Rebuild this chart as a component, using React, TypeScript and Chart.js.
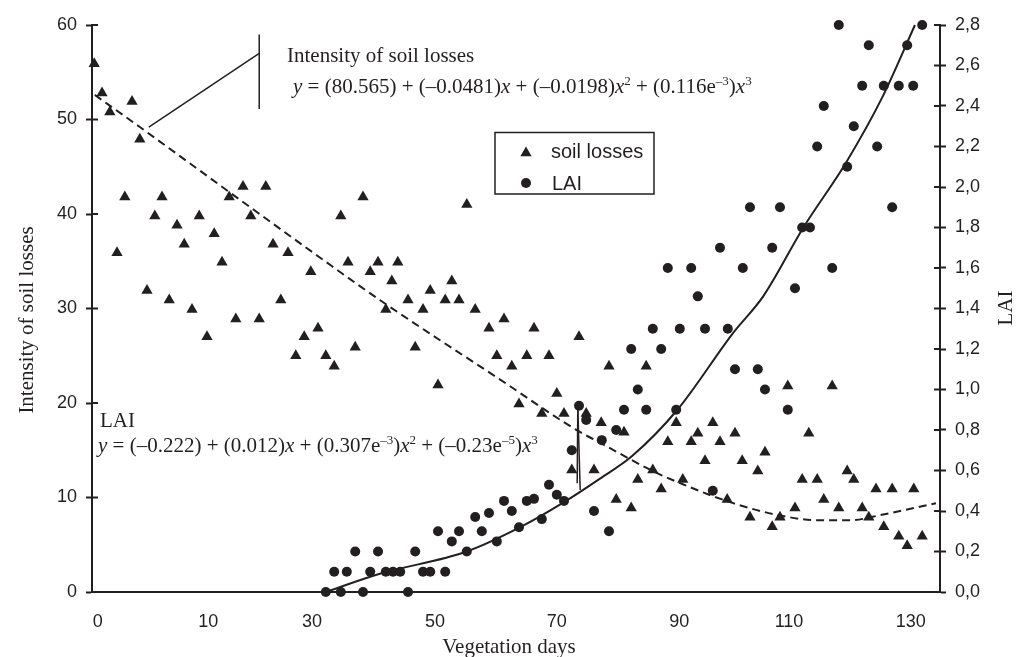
import React, { useEffect, useRef } from 'react';
import { Chart, registerables } from 'chart.js';

Chart.register(...registerables);

// ---------- data (x in axis units) ----------
const soilDays = [-6.3, -5, -3.7, 0, 1.3, -1.2, 5, 16.2, 18.5, 22.3, 38.5, 3.8, 11.2, 19.8, 34.8, 7.5, 13.7, 8.7, 23.5, -2.5, 26,
  15, 36, 41, 44.3, 29.8, 39.7, 43.3, 2.5, 6.2, 24.8, 10, 42.3, 17.3, 21.2, 12.5, 31, 28.7, 37.2, 27.3, 32.3, 33.7,
  55.8, 53.3, 49.7, 46, 52.2, 54.5, 48.5, 57.2, 59.5, 62, 67, 47.2, 60.8, 65.8, 69.5, 63.3, 74.5, 79.5, 85.7, 51, 70.8, 64.5, 68.3, 72, 75.7, 78.2, 82, 90.7, 89.3, 73.3, 77, 84.3, 86.8, 88.2, 80.7, 83.2,
  109.3, 116.7, 96.8, 94.3, 100.5, 112.8, 93.2, 98, 105.5, 95.5, 101.7, 104.3, 119.2, 91.8, 111.7, 114.2, 120.3, 124, 126.7, 130.3, 99.2, 115.3, 110.5, 117.8, 121.7, 103, 108, 122.8, 106.7, 125.3, 127.8, 131.7, 129.2];
const soilLosses = [55.9, 52.8, 50.8, 51.9, 47.9, 41.8, 41.8, 41.8, 42.9, 42.9, 41.8, 39.8, 39.8, 39.8, 39.8, 38.8, 37.9, 36.8, 36.8, 35.9, 35.9,
  34.9, 34.9, 34.9, 34.9, 33.9, 33.9, 32.9, 31.9, 30.9, 30.9, 29.9, 29.9, 28.9, 28.9, 27.0, 27.9, 27.0, 25.9, 25.0, 25.0, 23.9,
  41.0, 32.9, 31.9, 30.9, 30.9, 30.9, 29.9, 29.9, 27.9, 28.9, 27.9, 25.9, 25.0, 25.0, 25.0, 23.9, 27.0, 23.9, 23.9, 21.9, 21.0, 19.9, 18.9, 18.9, 18.9, 17.9, 16.9, 17.9, 15.9, 12.9, 12.9, 11.9, 12.9, 10.9, 9.8, 8.9,
  21.8, 21.8, 17.9, 16.8, 16.8, 16.8, 15.9, 15.9, 14.8, 13.9, 13.9, 12.8, 12.8, 11.9, 11.9, 11.9, 11.9, 10.9, 10.9, 10.9, 9.8, 9.8, 8.9, 8.9, 8.9, 7.9, 7.9, 7.9, 6.9, 6.9, 5.9, 5.9, 4.9];

const laiDays = [32.3, 34.8, 38.5, 46, 33.7, 35.8, 39.7, 42.3, 43.5, 44.7, 37.2, 41, 47.2, 48.5, 49.7, 52.2,
  51, 53.3, 54.5, 55.8, 57.2, 58.3, 59.5, 60.8, 62, 63.3, 64.5, 65.8, 67, 68.3, 69.5, 70.8, 72, 73.3, 74.5, 75.7, 77, 79.5, 78.3, 80.7, 82, 83.2, 84.3, 85.7, 86.8, 88.2, 89.3, 90.7, 91.3,
  94.3, 95.5, 99.3, 96.8, 100.5, 104.3, 105.5, 109.3, 110.5,
  93.2, 98, 101.8, 103, 106.7, 108, 111.7, 113, 116.7, 119.2, 114.2, 124.2, 120.3, 115.3, 121.7, 125.3, 127.8, 130.2, 122.8, 129.2, 117.8, 131.7, 126.7];
const laiValues = [0, 0, 0, 0, 0.1, 0.1, 0.1, 0.1, 0.1, 0.1, 0.2, 0.2, 0.2, 0.1, 0.1, 0.1,
  0.3, 0.25, 0.3, 0.2, 0.37, 0.3, 0.39, 0.25, 0.45, 0.4, 0.32, 0.45, 0.46, 0.36, 0.53, 0.48, 0.45, 0.7, 0.92, 0.85, 0.4, 0.3, 0.75, 0.8, 0.9, 1.2, 1.0, 0.9, 1.3, 1.2, 1.6, 0.9, 1.3,
  1.46, 1.3, 1.3, 0.5, 1.1, 1.1, 1.0, 0.9, 1.5,
  1.6, 1.7, 1.6, 1.9, 1.7, 1.9, 1.8, 1.8, 1.6, 2.1, 2.2, 2.2, 2.3, 2.4, 2.5, 2.5, 2.5, 2.5, 2.7, 2.7, 2.8, 2.8, 1.9];

// fitted trend lines
const soilFitDays = [-6.2, 1.3, 18, 31.3, 41.3, 61.3, 74.2, 78, 86.8, 91.8, 100.2, 108, 114.2, 119.7, 125.2, 134];
const soilFitValues = [52.6, 49.2, 41.5, 35.4, 30.9, 22.5, 17.1, 15.8, 12.8, 11.4, 9.4, 8.1, 7.6, 7.6, 8.2, 9.4];
const laiFitDays = [32.3, 41.3, 55.8, 64.7, 71.8, 78, 83.3, 90.9, 100.2, 105.2, 111.9, 119, 125, 130.5];
const laiFitValues = [0, 0.09, 0.2, 0.32, 0.44, 0.56, 0.67, 0.9, 1.28, 1.46, 1.8, 2.12, 2.44, 2.8];

// axes
const xTickPositions = [-5.7, 12.7, 30, 50.5, 70.8, 91.2, 109.5, 129.8];
const xTickLabels = ['0', '10', '30', '50', '70', '90', '110', '130'];
const leftTicks = [0, 10, 20, 30, 40, 50, 60];
const rightTicks = [0, 0.2, 0.4, 0.6, 0.8, 1.0, 1.2, 1.4, 1.6, 1.8, 2.0, 2.2, 2.4, 2.6, 2.8];

const INK = '#231f20';
const SANS = '"Liberation Sans", Arial, sans-serif';
const SERIF = '"Liberation Serif", "Times New Roman", serif';
const TRI_R = 6.5;
const DOT_R = 5;

type Seg = { t: string; i?: boolean; sup?: boolean };
const eqSoil: Seg[] = [
  { t: 'y', i: true }, { t: ' = (80.565) + (–0.0481)' }, { t: 'x', i: true }, { t: ' + (–0.0198)' }, { t: 'x', i: true }, { t: '2', sup: true },
  { t: ' + (0.116e' }, { t: '–3', sup: true }, { t: ')' }, { t: 'x', i: true }, { t: '3', sup: true },
];
const eqLai: Seg[] = [
  { t: 'y', i: true }, { t: ' = (–0.222) + (0.012)' }, { t: 'x', i: true }, { t: ' + (0.307e' }, { t: '–3', sup: true }, { t: ')' }, { t: 'x', i: true }, { t: '2', sup: true },
  { t: ' + (–0.23e' }, { t: '–5', sup: true }, { t: ')' }, { t: 'x', i: true }, { t: '3', sup: true },
];

function drawRich(ctx: CanvasRenderingContext2D, segs: Seg[], x: number, y: number, size: number) {
  let cx = x;
  ctx.textAlign = 'left';
  ctx.textBaseline = 'alphabetic';
  for (const s of segs) {
    const fs = s.sup ? Math.round(size * 0.62) : size;
    ctx.font = `${s.i ? 'italic ' : ''}${fs}px ${SERIF}`;
    const dy = s.sup ? -size * 0.4 : 0;
    ctx.fillText(s.t, cx, y + dy);
    cx += ctx.measureText(s.t).width;
  }
}

function triangle(ctx: CanvasRenderingContext2D, x: number, y: number, r: number) {
  ctx.beginPath();
  for (let k = 0; k < 3; k++) {
    const a = (k * 2 * Math.PI) / 3;
    const px = x + Math.sin(a) * r;
    const py = y - Math.cos(a) * r;
    if (k === 0) ctx.moveTo(px, py); else ctx.lineTo(px, py);
  }
  ctx.closePath();
  ctx.fill();
}

const decorPlugin = {
  id: 'decor',
  afterDraw(chart: any) {
    const ctx: CanvasRenderingContext2D = chart.ctx;
    const { x, y, y1 } = chart.scales;
    const area = chart.chartArea;
    ctx.save();
    ctx.strokeStyle = INK;
    ctx.fillStyle = INK;

    // inner halves of the crossing tick marks
    ctx.lineWidth = 2;
    for (const v of leftTicks) {
      const py = y.getPixelForValue(v);
      ctx.beginPath(); ctx.moveTo(area.left, py); ctx.lineTo(area.left + 6, py); ctx.stroke();
    }
    for (const v of rightTicks) {
      const py = y1.getPixelForValue(v);
      ctx.beginPath(); ctx.moveTo(area.right - 6, py); ctx.lineTo(area.right, py); ctx.stroke();
    }

    // leader lines (anchored in data space of left axis)
    ctx.lineWidth = 1.5;
    const P = (dx: number, vy: number) => [x.getPixelForValue(dx), y.getPixelForValue(vy)];
    const line = (a: number[], b: number[]) => { ctx.beginPath(); ctx.moveTo(a[0], a[1]); ctx.lineTo(b[0], b[1]); ctx.stroke(); };
    line(P(21.2, 59.0), P(21.2, 51.1));
    line(P(2.8, 49.2), P(21.2, 57.0));
    line(P(74.3, 19.6), P(74.2, 11.5));
    line(P(74.3, 19.6), P(74.7, 10.8));

    // annotation texts
    ctx.font = `21px ${SERIF}`;
    ctx.textAlign = 'left';
    ctx.textBaseline = 'alphabetic';
    ctx.fillText('Intensity of soil losses', 287, 62);
    drawRich(ctx, eqSoil, 293, 93, 21);
    ctx.font = `21px ${SERIF}`;
    ctx.fillText('LAI', 100, 427);
    drawRich(ctx, eqLai, 98, 452, 21);

    // axis titles
    ctx.font = `21px ${SERIF}`;
    ctx.textAlign = 'center';
    ctx.textBaseline = 'alphabetic';
    ctx.fillText('Vegetation days', 509, 653);
    ctx.save();
    ctx.translate(33, 320);
    ctx.rotate(-Math.PI / 2);
    ctx.fillText('Intensity of soil losses', 0, 0);
    ctx.restore();
    ctx.save();
    ctx.translate(1012, 308);
    ctx.rotate(-Math.PI / 2);
    ctx.fillText('LAI', 0, 0);
    ctx.restore();

    // legend box
    ctx.lineWidth = 1.5;
    ctx.strokeRect(495, 132.5, 159, 61.5);
    triangle(ctx, 526, 153, TRI_R);
    ctx.beginPath(); ctx.arc(526, 183, DOT_R, 0, Math.PI * 2); ctx.fill();
    ctx.font = `20px ${SANS}`;
    ctx.textAlign = 'left';
    ctx.textBaseline = 'middle';
    ctx.fillText(chart.data.datasets[0].label, 551, 152);
    ctx.fillText(chart.data.datasets[1].label, 552, 184);
    ctx.restore();
  },
};

export default function App() {
  const ref = useRef<HTMLCanvasElement | null>(null);
  useEffect(() => {
    document.body.style.margin = '0';
    const canvas = ref.current!;
    const tickFont = { family: SANS, size: 18 };
    const chart = new Chart(canvas, {
      type: 'scatter',
      data: {
        datasets: [
          {
            label: 'soil losses',
            data: soilDays.map((d, i) => ({ x: d, y: soilLosses[i] })),
            yAxisID: 'y',
            pointStyle: 'triangle',
            pointRadius: TRI_R,
            backgroundColor: INK,
            borderWidth: 0,
            clip: false as any,
          },
          {
            label: 'LAI',
            data: laiDays.map((d, i) => ({ x: d, y: laiValues[i] })),
            yAxisID: 'y1',
            pointStyle: 'circle',
            pointRadius: DOT_R,
            backgroundColor: INK,
            borderWidth: 0,
            clip: false as any,
          },
          {
            label: 'soil fit',
            data: soilFitDays.map((d, i) => ({ x: d, y: soilFitValues[i] })),
            yAxisID: 'y',
            showLine: true,
            pointRadius: 0,
            borderColor: INK,
            borderWidth: 2,
            borderDash: [8, 5],
            cubicInterpolationMode: 'monotone',
            fill: false,
            clip: false as any,
          },
          {
            label: 'LAI fit',
            data: laiFitDays.map((d, i) => ({ x: d, y: laiFitValues[i] })),
            yAxisID: 'y1',
            showLine: true,
            pointRadius: 0,
            borderColor: INK,
            borderWidth: 2,
            cubicInterpolationMode: 'monotone',
            fill: false,
            clip: false as any,
          },
        ],
      },
      options: {
        responsive: false,
        animation: false,
        devicePixelRatio: 1,
        layout: { padding: { top: 25, left: 0, right: 0, bottom: 0 } },
        plugins: { legend: { display: false }, tooltip: { enabled: false } },
        scales: {
          x: {
            type: 'linear',
            min: -6.67,
            max: 134.67,
            afterBuildTicks: (s: any) => { s.ticks = xTickPositions.map((v) => ({ value: v })); },
            afterFit: (s: any) => { s.height = 65; },
            ticks: { callback: (_v: any, i: number) => xTickLabels[i], font: tickFont, color: INK, padding: 19, autoSkip: false, maxRotation: 0 },
            grid: { display: false, drawTicks: false },
            border: { display: true, color: INK, width: 2 },
          },
          y: {
            position: 'left',
            min: 0,
            max: 60,
            afterBuildTicks: (s: any) => { s.ticks = leftTicks.map((v) => ({ value: v })); },
            afterFit: (s: any) => { s.width = 92; },
            ticks: { font: tickFont, color: INK, padding: 9 },
            grid: { display: true, drawOnChartArea: false, drawTicks: true, tickLength: 6, tickColor: INK, tickWidth: 2, color: INK },
            border: { display: true, color: INK, width: 2 },
          },
          y1: {
            position: 'right',
            min: 0,
            max: 2.8,
            afterBuildTicks: (s: any) => { s.ticks = rightTicks.map((v) => ({ value: v })); },
            afterFit: (s: any) => { s.width = 82; },
            ticks: { font: tickFont, color: INK, padding: 9, callback: (v: any) => Number(v).toFixed(1).replace('.', ',') },
            grid: { display: true, drawOnChartArea: false, drawTicks: true, tickLength: 6, tickColor: INK, tickWidth: 2, color: INK },
            border: { display: true, color: INK, width: 2 },
          },
        },
      } as any,
      plugins: [decorPlugin],
    });
    return () => chart.destroy();
  }, []);
  return (
    <div style={{ width: 1022, height: 657, background: '#fff' }}>
      <canvas ref={ref} width={1022} height={657} style={{ display: 'block' }} />
    </div>
  );
}
